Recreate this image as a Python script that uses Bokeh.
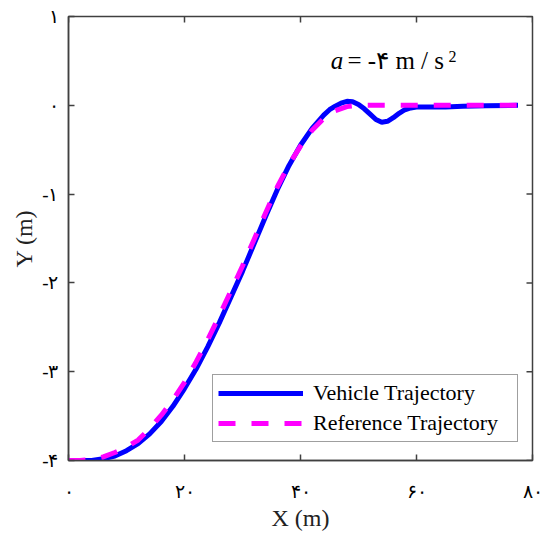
import math
from bokeh.plotting import figure
from bokeh.models import Range1d, FixedTicker, Label, Legend, LegendItem
from bokeh.embed import file_html
from bokeh.resources import INLINE

# Reference trajectory
ref_x = [0, 2, 4, 6, 8, 10, 12, 14, 16, 18, 20, 22, 24, 26, 28, 30, 32, 34, 36, 38,
         40, 42, 44, 46, 48, 50, 54, 60, 66, 72, 77.5]
ref_y = [-4.00, -4.00, -3.99, -3.96, -3.91, -3.85, -3.77, -3.64, -3.49, -3.32, -3.12,
         -2.89, -2.64, -2.37, -2.09, -1.81, -1.51, -1.21, -0.92, -0.67,
         -0.46, -0.28, -0.15, -0.06, -0.015, 0.0, 0.0, 0.0, 0.0, 0.0, 0.0]

# Vehicle trajectory
veh_x = [0, 2, 4, 6, 8, 10, 12, 14, 16, 18, 20, 22, 24, 26, 28, 30, 32, 34, 36, 38,
         40, 42, 44, 45, 46, 47, 48, 49, 50, 51, 52, 53, 54, 55, 56, 57, 58, 59, 60,
         62, 65, 68, 72, 77.5]
veh_y = [-4.00, -4.00, -4.00, -3.98, -3.95, -3.89, -3.81, -3.70, -3.56, -3.39, -3.19,
         -2.97, -2.72, -2.45, -2.16, -1.87, -1.56, -1.25, -0.95, -0.68,
         -0.45, -0.26, -0.11, -0.05, -0.01, 0.025, 0.045, 0.04, 0.01, -0.04, -0.10,
         -0.16, -0.19, -0.18, -0.14, -0.09, -0.05, -0.03, -0.02,
         -0.02, -0.02, -0.01, -0.005, 0.0]

x_ticks = [0, 20, 40, 60, 80]
x_tick_labels = ["۰", "۲۰", "۴۰", "۶۰", "۸۰"]
y_ticks = [-4, -3, -2, -1, 0, 1]
y_tick_labels = ["-۴", "-۳", "-۲", "-۱", "۰", "۱"]

series_names = ["Vehicle Trajectory", "Reference Trajectory"]

AX = "#404040"
SERIF = "Liberation Serif"

x_lo, x_hi = min(x_ticks), max(x_ticks)
y_lo, y_hi = min(y_ticks), max(y_ticks)

p = figure(width=545, height=534, output_backend="svg", toolbar_location=None,
           x_range=Range1d(x_lo, x_hi), y_range=Range1d(y_lo, y_hi),
           min_border_left=68, min_border_right=13, min_border_top=16, min_border_bottom=74)
p.background_fill_color = "white"
p.border_fill_color = "white"
p.outline_line_color = AX
p.outline_line_width = 1.5
p.xgrid.visible = False
p.ygrid.visible = False

def style_axis(ax, ticks, labels):
    ax.ticker = FixedTicker(ticks=ticks)
    ax.major_label_overrides = {t: l for t, l in zip(ticks, labels)}
    ax.axis_line_color = AX
    ax.axis_line_width = 1.5
    ax.major_tick_line_color = AX
    ax.major_tick_line_width = 1.5
    ax.major_tick_in = 6
    ax.major_tick_out = 0
    ax.minor_tick_line_color = None
    ax.major_label_text_font = SERIF
    ax.major_label_text_font_size = "19px"
    ax.major_label_text_color = "black"
    ax.axis_label_text_font = SERIF
    ax.axis_label_text_font_size = "24px"
    ax.axis_label_text_font_style = "normal"
    ax.axis_label_text_color = "#222222"

xa = p.xaxis[0]
style_axis(xa, x_ticks, x_tick_labels)
xa.major_label_standoff = 20
xa.axis_label = "X (m)"
xa.axis_label_standoff = 0

ya = p.yaxis[0]
style_axis(ya, y_ticks, y_tick_labels)
ya.major_label_standoff = 10
ya.axis_label = "Y (m)"
ya.axis_label_standoff = 2

# inward ticks on the top and right edges of the box
p.ray(x=x_ticks, y=[y_hi] * len(x_ticks), length=6, length_units="screen",
      angle=-math.pi / 2, line_color=AX, line_width=1.5)
p.ray(x=[x_hi] * len(y_ticks), y=y_ticks, length=6, length_units="screen",
      angle=math.pi, line_color=AX, line_width=1.5)

r_veh = p.line(veh_x, veh_y, line_color="#0000FF", line_width=5)
r_ref = p.line(ref_x, ref_y, line_color="#FF00FF", line_width=5, line_dash="17 16")

legend = Legend(items=[LegendItem(label=series_names[0], renderers=[r_veh]),
                       LegendItem(label=series_names[1], renderers=[r_ref])],
                location=(144, 18))
legend.label_text_font = SERIF
legend.label_text_font_size = "22px"
legend.label_text_color = "black"
legend.glyph_width = 85
legend.glyph_height = 20
legend.label_height = 20
legend.label_width = 199
legend.spacing = 4
legend.padding = 5
legend.label_standoff = 10
legend.border_line_color = AX
legend.border_line_width = 1
legend.background_fill_alpha = 1.0
p.add_layout(legend)

# annotation  a = -4 m / s^2
p.add_layout(Label(x=45.2, y=0.347, text="a", text_font=SERIF, text_font_size="25px",
                   text_font_style="italic", text_color="black"))
p.add_layout(Label(x=48.1, y=0.347, text="= -۴ m / s", text_font=SERIF,
                   text_font_size="25px", text_color="black"))
p.add_layout(Label(x=65.5, y=0.482, text="2", text_font=SERIF,
                   text_font_size="16px", text_color="black"))

open("out.html", "w").write(file_html(p, INLINE))
